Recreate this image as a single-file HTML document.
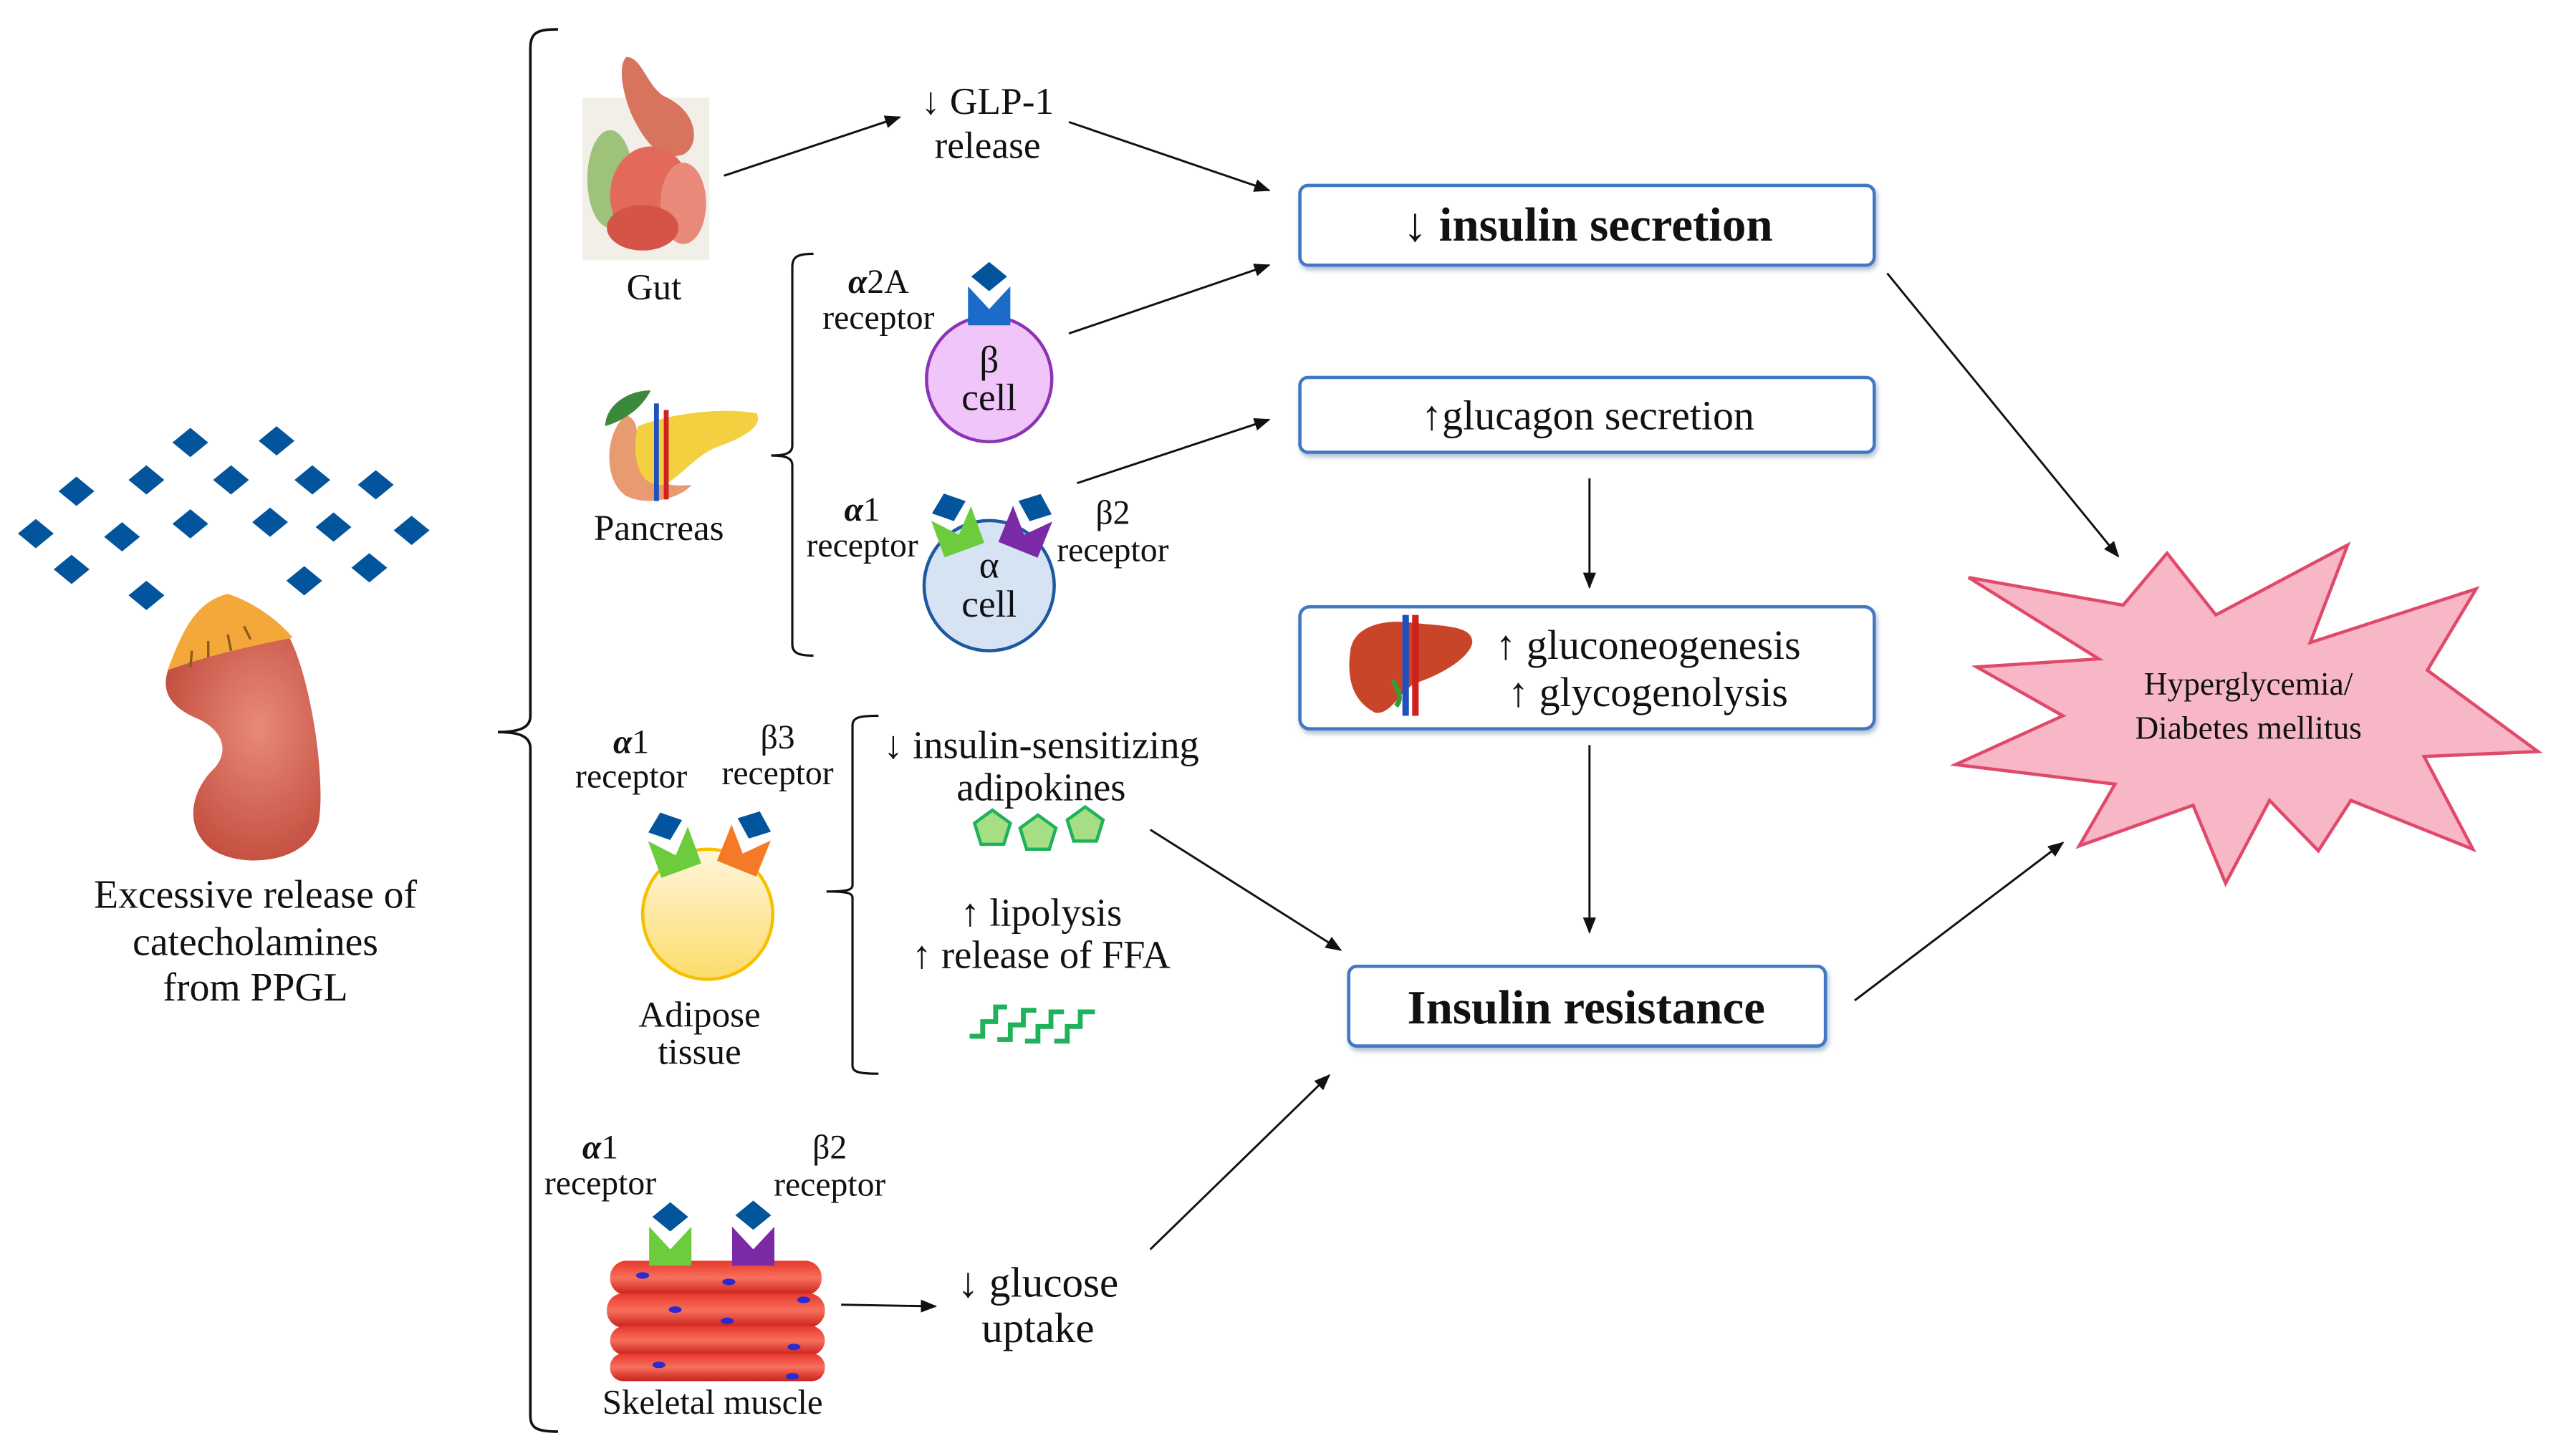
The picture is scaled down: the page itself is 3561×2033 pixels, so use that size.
<!DOCTYPE html>
<html><head><meta charset="utf-8"><style>
html,body{margin:0;padding:0;background:#fff;}
svg{display:block;}
text{font-family:"Liberation Serif",serif;fill:#111;}
</style></head><body>
<svg width="3561" height="2033" viewBox="0 0 1568 895" preserveAspectRatio="none" xmlns="http://www.w3.org/2000/svg">
<defs>
<marker id="ah" markerWidth="10" markerHeight="8" refX="9" refY="4" orient="auto" markerUnits="userSpaceOnUse"><path d="M0,0 L10,4 L0,8 z" fill="#111"/></marker>
<symbol id="dm" overflow="visible"><path d="M0,-9 L11,0 L0,9 L-11,0 z" fill="#02549c"/></symbol>
<symbol id="cup" overflow="visible"><path d="M-13,-10 L0,4 L13,-10 L13,14 L-13,14 z"/></symbol>
<radialGradient id="kid" cx="0.6" cy="0.4" r="0.7"><stop offset="0" stop-color="#e88a78"/><stop offset="1" stop-color="#c0483a"/></radialGradient>
<linearGradient id="yel" x1="0" y1="0" x2="0" y2="1"><stop offset="0" stop-color="#fff6dc"/><stop offset="1" stop-color="#fddc6a"/></linearGradient>
<linearGradient id="mus" x1="0" y1="0" x2="0" y2="1"><stop offset="0" stop-color="#e8372c"/><stop offset="0.5" stop-color="#f7705c"/><stop offset="1" stop-color="#c81f1a"/></linearGradient>
<filter id="sh" x="-5%" y="-20%" width="110%" height="150%"><feDropShadow dx="1" dy="2" stdDeviation="1.5" flood-color="#8aa0bc" flood-opacity="0.7"/></filter>
</defs>

<g>
<use href="#dm" x="117" y="272"/><use href="#dm" x="170" y="271"/>
<use href="#dm" x="47" y="302"/><use href="#dm" x="90" y="295"/><use href="#dm" x="142" y="295"/><use href="#dm" x="192" y="295"/><use href="#dm" x="231" y="298"/>
<use href="#dm" x="22" y="328"/><use href="#dm" x="75" y="330"/><use href="#dm" x="117" y="322"/><use href="#dm" x="166" y="321"/><use href="#dm" x="205" y="324"/><use href="#dm" x="253" y="326"/>
<use href="#dm" x="44" y="350"/><use href="#dm" x="90" y="366"/><use href="#dm" x="187" y="357"/><use href="#dm" x="227" y="349"/>
</g>
<path d="M104,410 C125,402 160,396 178,392 C192,420 200,480 196,505 C190,530 150,535 130,522 C112,508 118,485 132,472 C142,460 135,448 122,442 C105,435 98,425 104,410 z" fill="url(#kid)"/>
<path d="M103,412 C112,388 120,370 140,365 C155,370 170,380 180,392 C160,396 130,402 103,412 z" fill="#f5a83a"/>
<g stroke="#8a5a20" stroke-width="1.5"><line x1="118" y1="400" x2="117" y2="410"/><line x1="128" y1="394" x2="128" y2="404"/><line x1="140" y1="390" x2="142" y2="400"/><line x1="150" y1="385" x2="154" y2="393"/></g>

<g font-size="24.5" text-anchor="middle">
<text x="157" y="558">Excessive release of</text>
<text x="157" y="587">catecholamines</text>
<text x="157" y="615">from PPGL</text>
</g>

<path d="M343,18 C330,18 326,20 326,30 L326,440 C326,447 320,450 306,450 C320,450 326,453 326,460 L326,870 C326,878 330,880 343,880" fill="none" stroke="#111" stroke-width="1.6"/>

<g>
<rect x="358" y="60" width="78" height="100" fill="#f2efe9"/>
<path d="M385,35 C395,35 398,55 410,60 C430,70 430,90 420,95 C405,100 395,85 388,70 C382,55 380,40 385,35 z" fill="#d8735e"/>
<ellipse cx="375" cy="110" rx="14" ry="30" fill="#9ec27a"/>
<ellipse cx="400" cy="120" rx="25" ry="30" fill="#e36a5a"/>
<ellipse cx="420" cy="125" rx="14" ry="25" fill="#e8897a"/>
<ellipse cx="395" cy="140" rx="22" ry="14" fill="#d45548"/>
</g>
<g font-size="22.5" text-anchor="middle"><text x="402" y="184">Gut</text></g>

<g>
<path d="M385,255 C372,265 370,295 385,305 C400,312 420,305 425,298 C410,300 395,295 392,282 C390,270 395,260 385,255 z" fill="#e89a70"/>
<path d="M392,262 C410,255 440,250 465,254 C470,262 455,270 440,275 C425,282 420,292 408,298 C392,300 388,280 392,262 z" fill="#f2d040"/>
<rect x="402" y="248" width="3" height="60" fill="#2050c0"/><rect x="408" y="252" width="3" height="55" fill="#d02020"/>
<path d="M372,262 C372,250 385,240 400,240 C395,250 385,258 372,262 z" fill="#3b8a3b"/>
</g>
<g font-size="22.5" text-anchor="middle"><text x="405" y="332">Pancreas</text></g>

<path d="M500,156 C490,156 487,158 487,164 L487,274 C487,278 484,280 474,280 C484,280 487,282 487,286 L487,396 C487,401 490,403 500,403" fill="none" stroke="#111" stroke-width="1.4"/>

<g font-size="21" text-anchor="middle">
<text x="540" y="180" font-weight="bold" font-style="italic">α<tspan font-style="normal" font-weight="normal">2A</tspan></text>
<text x="540" y="202">receptor</text>
</g>
<circle cx="608" cy="233" r="38.5" fill="#f0c6fa" stroke="#8b34b5" stroke-width="2"/>
<use href="#cup" x="608" y="186" fill="#1a6cc8"/>
<use href="#dm" x="608" y="170"/>
<g font-size="23.5" text-anchor="middle"><text x="608" y="229">β</text><text x="608" y="252">cell</text></g>

<circle cx="608" cy="360" r="40" fill="#d6e3f3" stroke="#1e58a0" stroke-width="2"/>
<g transform="translate(588,325) rotate(-20)"><use href="#cup" fill="#6ccc3c"/><use href="#dm" y="-14"/></g>
<g transform="translate(631,325) rotate(22)"><use href="#cup" fill="#7b2aa5"/><use href="#dm" y="-14"/></g>
<g font-size="23.5" text-anchor="middle"><text x="608" y="355">α</text><text x="608" y="379">cell</text></g>
<g font-size="21" text-anchor="middle">
<text x="530" y="320" font-weight="bold" font-style="italic">α<tspan font-style="normal" font-weight="normal">1</tspan></text>
<text x="530" y="342">receptor</text>
<text x="684" y="322">β2</text>
<text x="684" y="345">receptor</text>
</g>

<g font-size="23.5" text-anchor="middle"><text x="607" y="70">↓ GLP-1</text><text x="607" y="97">release</text></g>
<g stroke="#111" stroke-width="1.3" marker-end="url(#ah)">
<line x1="445" y1="108" x2="553" y2="72"/>
<line x1="657" y1="75" x2="780" y2="117"/>
<line x1="657" y1="205" x2="780" y2="163"/>
<line x1="662" y1="297" x2="780" y2="258"/>
<line x1="977" y1="294" x2="977" y2="361"/>
<line x1="977" y1="458" x2="977" y2="573"/>
<line x1="1160" y1="168" x2="1302" y2="342"/>
<line x1="1140" y1="615" x2="1268" y2="518"/>
<line x1="707" y1="510" x2="824" y2="584"/>
<line x1="517" y1="802" x2="575" y2="803"/>
<line x1="707" y1="768" x2="817" y2="661"/>
</g>

<g fill="#fff" stroke="#3f78c2" stroke-width="2" filter="url(#sh)">
<rect x="799" y="114" width="353" height="49" rx="5"/>
<rect x="799" y="232" width="353" height="46" rx="5"/>
<rect x="799" y="373" width="353" height="75" rx="6"/>
<rect x="829" y="594" width="293" height="49" rx="5"/>
</g>
<g text-anchor="middle">
<text x="976" y="148" font-size="29.5" font-weight="bold">↓ insulin secretion</text>
<text x="976" y="264" font-size="25.5">↑glucagon secretion</text>
<text x="1013" y="405" font-size="25.5">↑ gluconeogenesis</text>
<text x="1013" y="434" font-size="25.5">↑ glycogenolysis</text>
<text x="975" y="629" font-size="29.5" font-weight="bold">Insulin resistance</text>
</g>
<path d="M830,400 C832,385 850,380 870,383 C890,385 905,385 905,395 C903,405 885,415 870,420 C860,425 855,440 845,438 C830,430 828,415 830,400 z" fill="#c8452a"/>
<rect x="862" y="378" width="4" height="62" fill="#2050c0"/><rect x="868" y="378" width="4" height="62" fill="#d02020"/>
<path d="M856,418 C860,425 862,430 858,434" stroke="#3a9a3a" stroke-width="3" fill="none"/>

<polygon points="1210,355 1305,372 1332,340 1362,378 1443,335 1420,395 1522,362 1492,412 1560,462 1490,465 1520,522 1445,492 1425,523 1395,492 1368,543 1348,495 1278,520 1300,482 1202,470 1268,440 1215,410 1290,405" fill="#f8b7c6" stroke="#e04a6a" stroke-width="2"/>
<g font-size="20" text-anchor="middle"><text x="1382" y="427">Hyperglycemia/</text><text x="1382" y="454">Diabetes mellitus</text></g>

<g font-size="21" text-anchor="middle">
<text x="388" y="463" font-weight="bold" font-style="italic">α<tspan font-style="normal" font-weight="normal">1</tspan></text>
<text x="388" y="484">receptor</text>
<text x="478" y="460">β3</text>
<text x="478" y="482">receptor</text>
</g>
<circle cx="435" cy="562" r="40" fill="url(#yel)" stroke="#f5c000" stroke-width="2"/>
<g transform="translate(414,522) rotate(-20)"><use href="#cup" fill="#6ccc3c"/><use href="#dm" y="-15"/></g>
<g transform="translate(458,521) rotate(22)"><use href="#cup" fill="#f57a28"/><use href="#dm" y="-15"/></g>
<g font-size="22.5" text-anchor="middle"><text x="430" y="631">Adipose</text><text x="430" y="654">tissue</text></g>

<path d="M540,440 C528,440 524,441 524,446 L524,544 C524,547 521,548 508,548 C521,548 524,549 524,552 L524,655 C524,659 528,660 540,660" fill="none" stroke="#111" stroke-width="1.4"/>
<g font-size="24" text-anchor="middle">
<text x="640" y="466">↓ insulin-sensitizing</text>
<text x="640" y="492">adipokines</text>
<text x="640" y="569">↑ lipolysis</text>
<text x="640" y="595">↑ release of FFA</text>
</g>
<g fill="#a5de85" stroke="#1fb25a" stroke-width="2">
<polygon points="610,498 621,506 617,519 603,519 599,506"/>
<polygon points="638,501 649,509 645,522 631,522 627,509"/>
<polygon points="667,496 678,504 674,517 660,517 656,504"/>
</g>
<g fill="none" stroke="#1fb25a" stroke-width="3">
<path d="M596,637 L604,637 L604,628 L612,628 L612,619 L619,619"/>
<path d="M613,639 L621,639 L621,630 L629,630 L629,621 L637,621"/>
<path d="M630,640 L638,640 L638,631 L646,631 L646,622 L654,622"/>
<path d="M648,640 L656,640 L656,631 L664,631 L664,622 L673,622"/>
</g>

<g font-size="21" text-anchor="middle">
<text x="369" y="712" font-weight="bold" font-style="italic">α<tspan font-style="normal" font-weight="normal">1</tspan></text>
<text x="369" y="734">receptor</text>
<text x="510" y="712">β2</text>
<text x="510" y="735">receptor</text>
</g>
<g fill="url(#mus)">
<rect x="375" y="775" width="130" height="21" rx="10"/>
<rect x="373" y="795" width="134" height="21" rx="10"/>
<rect x="375" y="815" width="132" height="18" rx="9"/>
<rect x="375" y="832" width="132" height="17" rx="8"/>
</g>
<g fill="#2a2ad0"><ellipse cx="395" cy="784" rx="4" ry="2"/><ellipse cx="415" cy="805" rx="4" ry="2"/><ellipse cx="447" cy="812" rx="4" ry="2"/><ellipse cx="494" cy="799" rx="4" ry="2"/><ellipse cx="448" cy="788" rx="4" ry="2"/><ellipse cx="488" cy="828" rx="4" ry="2"/><ellipse cx="405" cy="839" rx="4" ry="2"/><ellipse cx="487" cy="846" rx="4" ry="2"/></g>
<use href="#cup" x="412" y="764" fill="#6ccc3c"/><use href="#dm" x="412" y="748"/>
<use href="#cup" x="463" y="764" fill="#7b2aa5"/><use href="#dm" x="463" y="747"/>
<g font-size="21.5" text-anchor="middle"><text x="438" y="869">Skeletal muscle</text></g>
<g font-size="26" text-anchor="middle"><text x="638" y="797">↓ glucose</text><text x="638" y="825">uptake</text></g>
</svg>
</body></html>
